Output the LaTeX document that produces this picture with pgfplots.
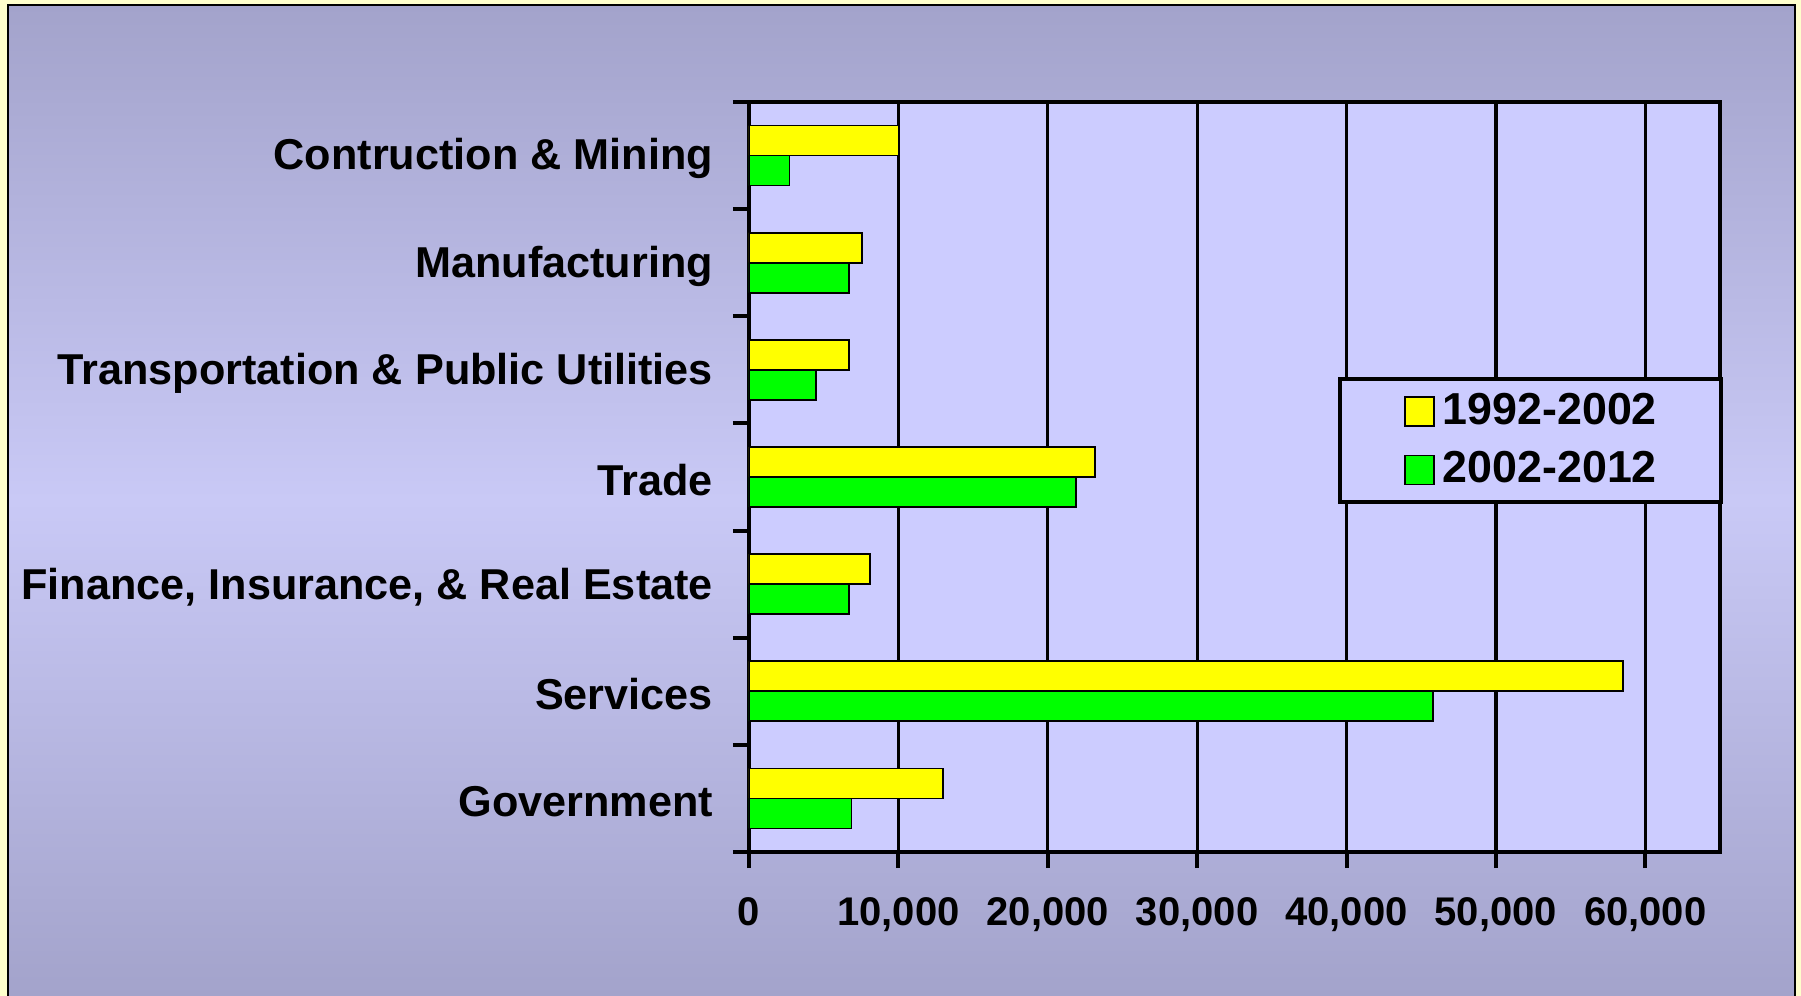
\documentclass[border=0pt]{standalone}
\usepackage{fontspec}
\setmainfont{Liberation Sans}
\usepackage{pgfplots}
\pgfplotsset{compat=1.18}
\definecolor{outerbg}{HTML}{FFFFCC}
\definecolor{panelend}{HTML}{A3A3CB}
\definecolor{panelmid}{HTML}{C9C9F6}
\definecolor{plotbg}{HTML}{CCCCFF}
\definecolor{baryellow}{HTML}{FFFF00}
\definecolor{bargreen}{HTML}{00FF00}

\begin{document}
\begin{tikzpicture}
% page background and gradient panel
\fill[outerbg] (0,0) rectangle (450.25pt,249pt);
\shade[top color=panelend, bottom color=panelend, middle color=panelmid] (2pt,0pt) rectangle (448.75pt,247.75pt);
\draw[black, line width=0.4pt] (2pt,0pt) -- (2pt,247.75pt) -- (448.75pt,247.75pt) -- (448.75pt,0pt);
\begin{axis}[
    at={(187.25pt,36pt)}, anchor=south west,
    scale only axis,
    width=242.75pt, height=187.5pt,
    axis background/.style={fill=plotbg},
    xbar=0pt,
    bar width=7.5pt,
    xmin=0, xmax=65000,
    ymin=-0.5, ymax=6.5,
    y dir=reverse,
    ytick={-0.5,0.5,...,6.5},
    y tick label as interval,
    yticklabels={Contruction \& Mining, Manufacturing, Transportation \& Public Utilities, Trade, {Finance, Insurance, \& Real Estate}, Services, Government},
    xtick={0,10000,...,60000},
    scaled x ticks=false,
    /pgf/number format/1000 sep={,},
    /pgf/number format/assume math mode=true,
    tick pos=left,
    tick align=outside,
    major tick length=4pt,
    tick style={black, line width=1pt},
    axis line style={line width=1.1pt},
    xmajorgrids,
    grid style={black, line width=0.8pt},
    yticklabel style={font=\fontsize{10.8}{12}\selectfont\bfseries, xshift=-1.5pt, yshift=-0.8pt},
    xticklabel style={font=\fontsize{10}{12}\selectfont\bfseries, yshift=-3.8pt},
    legend style={at={(1.003,0.633)}, anchor=north east, fill=plotbg, draw=black, line width=1pt,
        font=\fontsize{11.2}{12}\selectfont\bfseries, inner xsep=14pt, inner ysep=1.4pt, row sep=1.3pt,
        /tikz/every even column/.append style={column sep=3.5pt}},
    legend cell align=left,
    legend image code/.code={\path (0pt,0pt); \draw[#1, line width=0.4pt] (2pt,-3.6pt) rectangle (9.2pt,3.6pt);},
]
\addplot[fill=baryellow, draw=black, line width=0.4pt, bar shift=3.75pt] coordinates {(10000,0) (7550,1) (6700,2) (23150,3) (8100,4) (58500,5) (13000,6)};
\addplot[fill=bargreen, draw=black, line width=0.4pt, bar shift=-3.75pt] coordinates {(2700,0) (6700,1) (4500,2) (21900,3) (6700,4) (45800,5) (6850,6)};
\legend{1992-2002, 2002-2012}
\end{axis}
\pgfresetboundingbox
\useasboundingbox (0,0) rectangle (450.25pt,249pt);
\end{tikzpicture}
\end{document}
